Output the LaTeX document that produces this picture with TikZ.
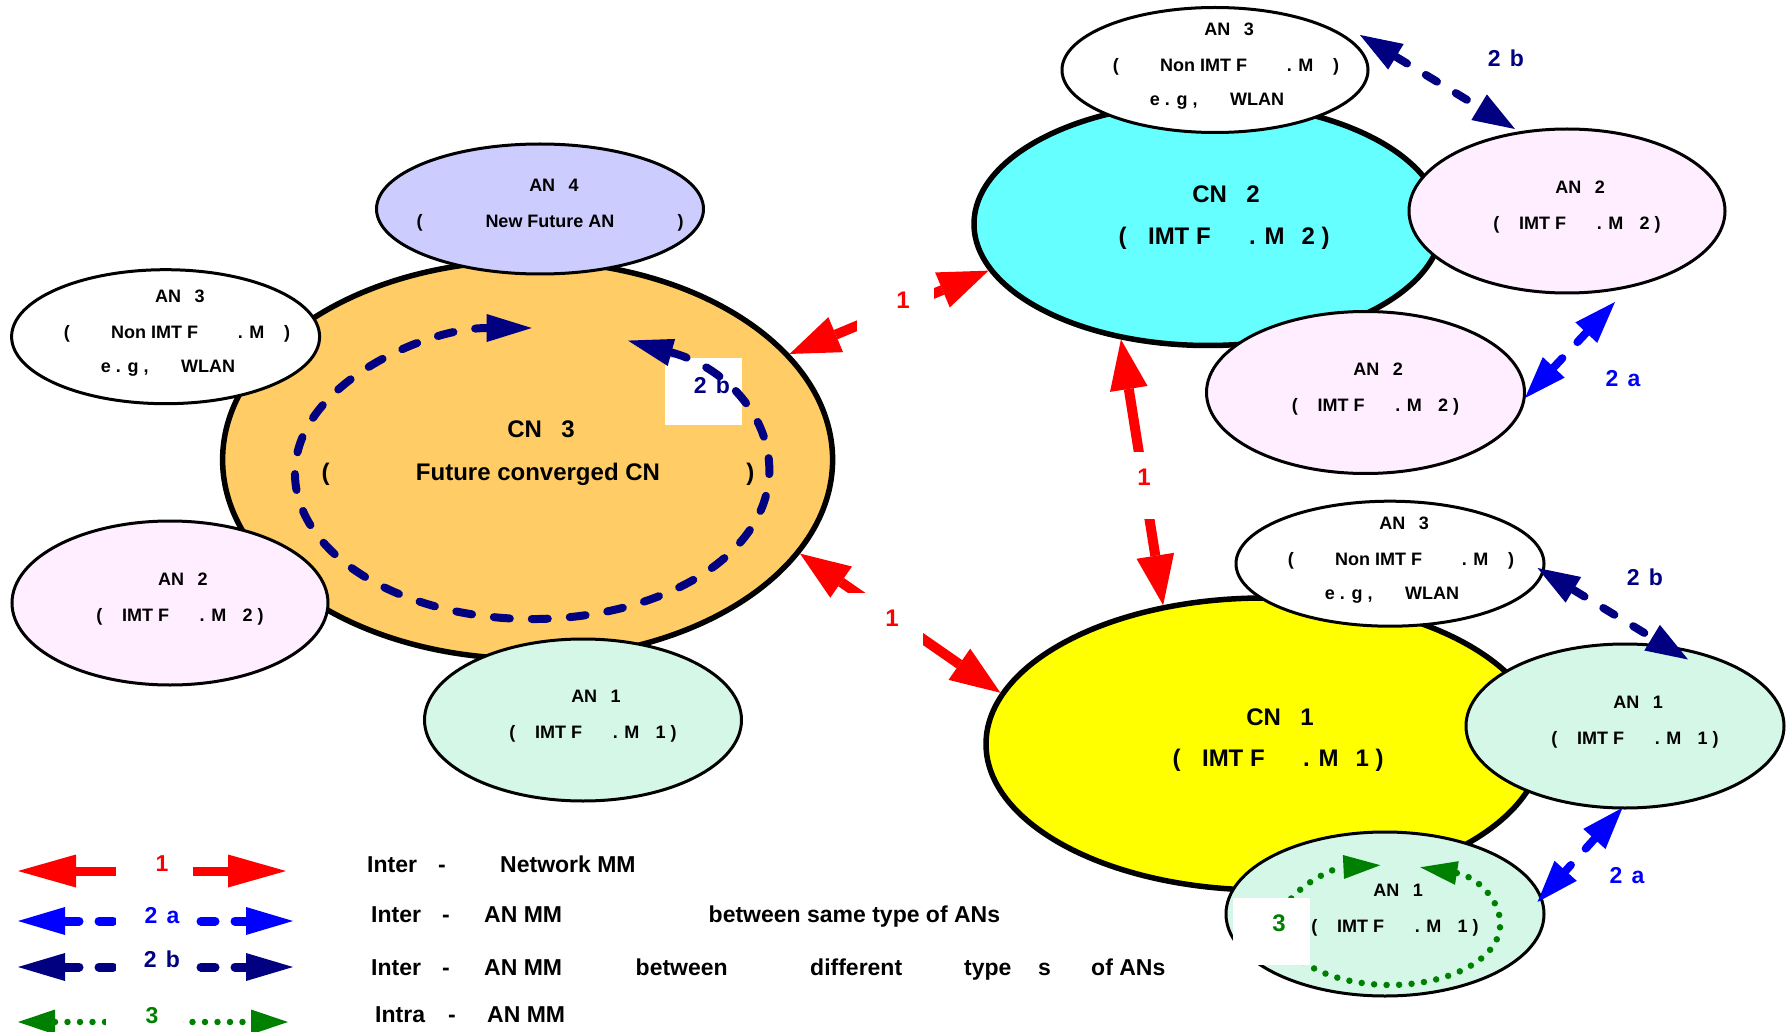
\documentclass[tikz,border=0pt]{standalone}
\usepackage{fontspec}
\setmainfont{Liberation Sans}
\usetikzlibrary{shapes.geometric,arrows.meta}
\newcommand{\hs}[1]{\hspace*{#1em}}
\definecolor{cnorange}{HTML}{FFCC66}
\definecolor{anlav}{HTML}{CCCCFF}
\definecolor{anpink}{HTML}{FFEEFF}
\definecolor{anmint}{HTML}{D4F7E8}
\definecolor{cncyan}{HTML}{66FFFF}
\definecolor{cnyellow}{HTML}{FFFF00}
\definecolor{arrred}{HTML}{FF0000}
\definecolor{arrblue}{HTML}{0000FF}
\definecolor{arrnavy}{HTML}{000080}
\definecolor{arrgreen}{HTML}{008000}
\begin{document}
\begin{tikzpicture}[x=1pt,y=-1pt]
\tikzset{
 cnshape/.style={ellipse, draw=black, line width=5.5pt, inner sep=0pt},
 anshape/.style={ellipse, draw=black, line width=3pt, inner sep=0pt},
 antxt/.style={font=\fontsize{18}{20}\selectfont\bfseries, anchor=base, yshift=-6.5pt, inner sep=0pt},
 cntxt/.style={font=\fontsize{24}{28}\selectfont\bfseries, anchor=base, yshift=-8.6pt, inner sep=0pt},
 lgtxt/.style={font=\fontsize{23}{27}\selectfont\bfseries, anchor=base west, yshift=-8.2pt, inner sep=0pt},
 numlbl/.style={font=\fontsize{23}{27}\selectfont\bfseries, anchor=base, yshift=-8.2pt, inner sep=0pt},
 redlbl/.style={font=\fontsize{24}{28}\selectfont\bfseries, anchor=base, yshift=-8.6pt, inner sep=0pt, text=arrred},
 wbox/.style={fill=white, draw=none, minimum width=77pt, minimum height=67pt, inner sep=0pt},
 redarr/.style={draw=arrred, line width=10pt, >={Triangle[length=50pt,width=38pt,line width=0pt]}, <->},
 legred/.style={draw=arrred, line width=9pt, >={Triangle[length=58pt,width=33pt,line width=0pt]}, <->},
 arrtwoa/.style={draw=arrblue, line width=8pt, line cap=round, dash pattern=on 13pt off 22pt, >={Triangle[length=42pt,width=30pt,line width=0pt]}, <->},
 arrtwob/.style={draw=arrnavy, line width=8pt, line cap=round, dash pattern=on 13pt off 22pt, >={Triangle[length=42pt,width=30pt,line width=0pt]}, <->},
 legblue/.style={draw=arrblue, line width=9pt, line cap=round, dash pattern=on 14pt off 20pt, >={Triangle[length=47pt,width=28pt,line width=0pt]}, <->},
 legnavy/.style={draw=arrnavy, line width=9pt, line cap=round, dash pattern=on 14pt off 20pt, >={Triangle[length=47pt,width=28pt,line width=0pt]}, <->},
 loopnavy/.style={draw=arrnavy, line width=8pt, line cap=round, dash pattern=on 16pt off 22pt, >={Triangle[length=45pt,width=28pt,line width=0pt]}, <->},
 loopgreen/.style={draw=arrgreen, line width=6.5pt, line cap=round, dash pattern=on 0pt off 12.5pt, >={Triangle[length=37pt,width=24pt,line width=0pt]}, <->},
 leggreen/.style={draw=arrgreen, line width=6.5pt, line cap=round, dash pattern=on 0pt off 12.5pt, >={Triangle[length=37pt,width=25pt,line width=0pt]}, <->},
}
\useasboundingbox (0,0) rectangle (1789,1032);

% ---------- CN3 group ----------
\node[cnshape, fill=cnorange, minimum width=610pt, minimum height=398pt] (cn3) at (527.6,459.8) {};
\node[anshape, fill=anlav, minimum width=327pt, minimum height=130pt] (an4) at (540,209) {};
\node[anshape, fill=white, minimum width=308pt, minimum height=134pt] (an3l) at (165.6,336.7) {};
\node[anshape, fill=anpink, minimum width=316pt, minimum height=164pt] (an2l) at (170,603) {};
\node[anshape, fill=anmint, minimum width=317pt, minimum height=162pt] (an1l) at (583,720) {};

\node[cntxt] (cn3a) at (541,429) {CN\hs{0.8}3};
\node[cntxt] (cn3b) at (538,472) {(\hs{3.6}Future converged CN\hs{3.6})};
\node[antxt] (an4a) at (554,185) {AN\hs{0.75}4};
\node[antxt] (an4b) at (550,221) {(\hs{3.5}New Future AN\hs{3.5})};
\node[antxt] (an3la) at (180,296) {AN\hs{0.75}3};
\node[antxt] (an3lb) at (177,332) {(\hs{2.3}Non IMT F\hs{2.2}. M\hs{1.1})};
\node[antxt] (an3lc) at (168,366) {e . g ,\hs{1.8}WLAN};
\node[antxt] (an2la) at (183,579) {AN\hs{0.75}2};
\node[antxt] (an2lb) at (180,615) {(\hs{1.1}IMT F\hs{1.7}. M\hs{0.9}2 )};
\node[antxt] (an1la) at (596,696) {AN\hs{0.75}1};
\node[antxt] (an1lb) at (593,732) {(\hs{1.1}IMT F\hs{1.7}. M\hs{0.9}1 )};

% loop in CN3
\node[wbox] (box2b) at (703.5,391.5) {};
\coordinate (lp0) at (628,340.6);
\draw[loopnavy] (lp0) arc[start angle=-66, end angle=270, x radius=236.7, y radius=145.5];
\node[numlbl, text=arrnavy] (l2bc) at (712,385) {2\hs{0.4}b};

% ---------- CN2 group ----------
\node[cnshape, fill=cncyan, minimum width=468pt, minimum height=243pt] (cn2) at (1208,224) {};
\node[anshape, fill=white, minimum width=306pt, minimum height=125pt] (an3t) at (1215,70) {};
\node[anshape, fill=anpink, minimum width=316pt, minimum height=164pt] (an2r) at (1567,211) {};
\node[anshape, fill=anpink, minimum width=318pt, minimum height=162pt] (an2b) at (1365.5,392.5) {};

\node[cntxt] (cn2a) at (1226,194) {CN\hs{0.8}2};
\node[cntxt] (cn2b) at (1224,236) {(\hs{0.9}IMT F\hs{1.6}. M\hs{0.7}2 )};
\node[antxt] (an3ta) at (1229,29) {AN\hs{0.75}3};
\node[antxt] (an3tb) at (1226,65) {(\hs{2.3}Non IMT F\hs{2.2}. M\hs{1.1})};
\node[antxt] (an3tc) at (1217,99) {e . g ,\hs{1.8}WLAN};
\node[antxt] (an2ra) at (1580,187) {AN\hs{0.75}2};
\node[antxt] (an2rb) at (1577,223) {(\hs{1.1}IMT F\hs{1.7}. M\hs{0.9}2 )};
\node[antxt] (an2ba) at (1378,368.5) {AN\hs{0.75}2};
\node[antxt] (an2bb) at (1375.5,404.5) {(\hs{1.1}IMT F\hs{1.7}. M\hs{0.9}2 )};

% ---------- CN1 group ----------
\node[cnshape, fill=cnyellow, minimum width=556pt, minimum height=292pt] (cn1) at (1264,744) {};
\node[anshape, fill=white, minimum width=308pt, minimum height=125pt] (an3m) at (1390,563.7) {};
\node[anshape, fill=anmint, minimum width=318pt, minimum height=164pt] (an1r) at (1625,726) {};
\node[anshape, fill=anmint, minimum width=318pt, minimum height=164pt] (an1b) at (1385,914) {};

\node[cntxt] (cn1a) at (1280,716.5) {CN\hs{0.8}1};
\node[cntxt] (cn1b) at (1278,757.6) {(\hs{0.9}IMT F\hs{1.6}. M\hs{0.7}1 )};
\node[antxt] (an3ma) at (1404,523) {AN\hs{0.75}3};
\node[antxt] (an3mb) at (1401,559) {(\hs{2.3}Non IMT F\hs{2.2}. M\hs{1.1})};
\node[antxt] (an3mc) at (1392,593) {e . g ,\hs{1.8}WLAN};
\node[antxt] (an1ra) at (1638,702) {AN\hs{0.75}1};
\node[antxt] (an1rb) at (1635,738) {(\hs{1.1}IMT F\hs{1.7}. M\hs{0.9}1 )};
\node[antxt] (an1ba) at (1398,890) {AN\hs{0.75}1};
\node[antxt] (an1bb) at (1395,926) {(\hs{1.1}IMT F\hs{1.7}. M\hs{0.9}1 )};

% green loop in AN1 bottom
\coordinate (gl0) at (1420.3,867.3);
\draw[loopgreen] (gl0) arc[start angle=-74, end angle=265, x radius=110, y radius=60];
\node[wbox] (box3) at (1271.5,931.5) {};
\node[numlbl, text=arrgreen, font=\fontsize{24}{28}\selectfont\bfseries] (l3) at (1279,923) {3};

% ---------- red inter-network arrows ----------
\draw[redarr] (cn3.22) -- (cn2.192);
\node[wbox] (b1) at (895,308) {};
\node[redlbl] (l1a) at (903,300) {1};
\draw[redarr] (cn2.233) -- (cn1.126);
\node[wbox] (b2) at (1136,485) {};
\node[redlbl] (l1b) at (1144,477) {1};
\draw[redarr] (cn3.341) -- (cn1.169);
\node[wbox] (b3) at (884,626) {};
\node[redlbl] (l1c) at (892,618) {1};

% ---------- inter-AN arrows ----------
\coordinate (t2a1a) at (1615,302);
\coordinate (t2a1b) at (1525,398);
\draw[arrtwoa] (t2a1a) -- (t2a1b);
\node[numlbl, text=arrblue] (l2a1) at (1623,378) {2\hs{0.4}a};
\coordinate (t2a2a) at (1622.5,807.8);
\coordinate (t2a2b) at (1537.5,902);
\draw[arrtwoa] (t2a2a) -- (t2a2b);
\node[numlbl, text=arrblue] (l2a2) at (1627,875) {2\hs{0.4}a};
\coordinate (t2b1a) at (1360,35);
\coordinate (t2b1b) at (1515,129);
\draw[arrtwob] (t2b1a) -- (t2b1b);
\node[numlbl, text=arrnavy] (l2b1) at (1506,58) {2\hs{0.4}b};
\coordinate (t2b2a) at (1537.5,568);
\coordinate (t2b2b) at (1688,659.5);
\draw[arrtwob] (t2b2a) -- (t2b2b);
\node[numlbl, text=arrnavy] (l2b2) at (1645,577) {2\hs{0.4}b};

% ---------- legend ----------
\coordinate (lg1a) at (18,871);
\coordinate (lg1b) at (286,871);
\draw[legred] (lg1a) -- (lg1b);
\node[wbox] (lgb1) at (154,871) {};
\node[numlbl, text=arrred] (lgl1) at (162,863) {1};
\coordinate (lg2a) at (18,921);
\coordinate (lg2b) at (293,921);
\draw[legblue] (lg2a) -- (lg2b);
\node[wbox] (lgb2) at (154,923) {};
\node[numlbl, text=arrblue] (lgl2) at (162,915) {2\hs{0.4}a};
\coordinate (lg3a) at (18,967);
\coordinate (lg3b) at (293,967);
\draw[legnavy] (lg3a) -- (lg3b);
\node[wbox] (lgb3) at (154,967) {};
\node[numlbl, text=arrnavy] (lgl3) at (162,959) {2\hs{0.4}b};
\coordinate (lg4a) at (18,1022);
\coordinate (lg4b) at (288,1022);
\draw[leggreen] (lg4a) -- (lg4b);
\node[wbox] (lgb4) at (144,1023) {};
\node[numlbl, text=arrgreen] (lgl4) at (152,1015) {3};

\node[lgtxt] (r1a) at (367,864) {Inter};
\node[lgtxt, anchor=base] (r1b) at (442,864) {-};
\node[lgtxt] (r1c) at (500,864) {Network MM};
\node[lgtxt] (r2a) at (371,914) {Inter};
\node[lgtxt, anchor=base] (r2b) at (446,914) {-};
\node[lgtxt] (r2c) at (484,914) {AN MM};
\node[lgtxt] (r2d) at (708.5,914) {between same type of ANs};
\node[lgtxt] (r3a) at (371,967) {Inter};
\node[lgtxt, anchor=base] (r3b) at (446,967) {-};
\node[lgtxt] (r3c) at (484,967) {AN MM};
\node[lgtxt] (r3d) at (635.5,967) {between};
\node[lgtxt] (r3e) at (810,967) {different};
\node[lgtxt] (r3f) at (964,967) {type};
\node[lgtxt] (r3g) at (1038,967) {s};
\node[lgtxt] (r3h) at (1091,967) {of ANs};
\node[lgtxt] (r4a) at (375,1014) {Intra};
\node[lgtxt, anchor=base] (r4b) at (452,1014) {-};
\node[lgtxt] (r4c) at (487,1014) {AN MM};
\end{tikzpicture}
\end{document}
